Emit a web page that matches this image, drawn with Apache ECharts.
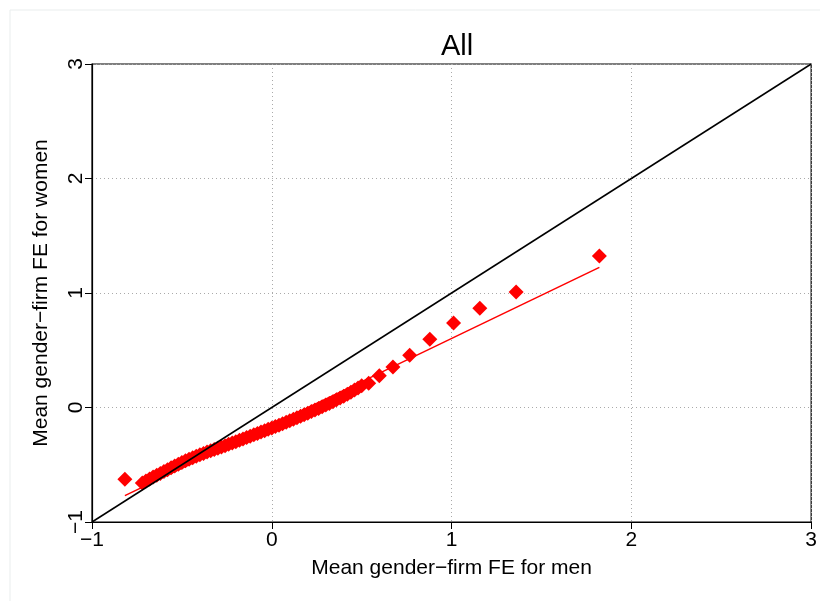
<!DOCTYPE html>
<html>
<head>
<meta charset="utf-8">
<script src="https://cdn.jsdelivr.net/npm/echarts@6/dist/echarts.min.js"></script>
<style>
  html, body { margin: 0; padding: 0; background: #fff; }
  #chart { width: 820px; height: 601px; }
</style>
</head>
<body>
<div id="chart"></div>
<script>
// mean FE for men (x) and women (y), one diamond per bin
const menFE = [
  -0.817, -0.72, -0.70, -0.68, -0.66, -0.64, -0.62, -0.60, -0.58, -0.56, -0.54,
  -0.52, -0.50, -0.48, -0.46, -0.44, -0.42, -0.40, -0.38, -0.36, -0.34,
  -0.32, -0.30, -0.28, -0.26, -0.24, -0.22, -0.20, -0.18, -0.16, -0.14,
  -0.12, -0.10, -0.08, -0.06, -0.04, -0.02, 0.00, 0.02, 0.04, 0.06,
  0.08, 0.10, 0.12, 0.14, 0.16, 0.18, 0.20, 0.22, 0.24, 0.26,
  0.28, 0.30, 0.32, 0.34, 0.36, 0.38, 0.40, 0.42, 0.44, 0.46, 0.48, 0.50,
  0.539, 0.598, 0.674, 0.767, 0.879, 1.011, 1.157, 1.359, 1.822
];
const womenFE = [
  -0.627, -0.660, -0.643, -0.625, -0.608, -0.592, -0.576, -0.560, -0.543, -0.527, -0.511,
  -0.495, -0.480, -0.466, -0.452, -0.439, -0.426, -0.413, -0.401, -0.389, -0.377,
  -0.366, -0.355, -0.344, -0.333, -0.322, -0.311, -0.299, -0.287, -0.275, -0.263,
  -0.250, -0.238, -0.226, -0.214, -0.202, -0.190, -0.178, -0.166, -0.154, -0.141,
  -0.129, -0.116, -0.103, -0.090, -0.077, -0.063, -0.050, -0.036, -0.022, -0.008,
  0.006, 0.021, 0.036, 0.051, 0.067, 0.083, 0.099, 0.116, 0.134, 0.152, 0.171, 0.190,
  0.211, 0.278, 0.354, 0.456, 0.596, 0.738, 0.866, 1.009, 1.323
];

// fitted line end points
const fitX = [-0.817, 1.822];
const fitY = [-0.770, 1.224];

// 45 degree line
const diagX = [-1, 3];
const diagY = [-1, 3];

const xTitle = 'Mean gender\u2212firm FE for men';
const yTitle = 'Mean gender\u2212firm FE for women';
const chartTitle = 'All';

const FONT = '"Liberation Sans", Arial, sans-serif';
const minus = v => String(v).replace('-', '\u2212');

const chart = echarts.init(document.getElementById('chart'));

const pts = menFE.map((x, i) => [x, womenFE[i]]);
const fit = fitX.map((x, i) => [x, fitY[i]]);
const diag = diagX.map((x, i) => [x, diagY[i]]);

const option = {
    animation: false,
    backgroundColor: '#fff',
    graphic: [{
        type: 'rect',
        shape: { x: 10, y: 10, width: 840, height: 620 },
        style: { fill: 'none', stroke: '#e9eded', lineWidth: 1 },
        silent: true
    }],
    title: {
        text: chartTitle,
        left: 452,
        top: 27,
        textAlign: 'center',
        textStyle: { fontFamily: FONT, fontSize: 29, fontWeight: 'normal', color: '#000' }
    },
    grid: {
        left: 92,
        right: 8,
        top: 64,
        bottom: 79,
        show: true,
        borderColor: '#000',
        borderWidth: 1.2
    },
    xAxis: {
        type: 'value',
        min: -1,
        max: 3,
        interval: 1,
        name: xTitle,
        nameLocation: 'middle',
        nameGap: 36,
        nameTextStyle: { fontFamily: FONT, fontSize: 21, color: '#000' },
        axisLine: { show: true, onZero: false, lineStyle: { color: '#000', width: 1.2 } },
        axisTick: { show: true, length: 7, lineStyle: { color: '#000' } },
        axisLabel: {
            margin: 8,
            fontFamily: FONT, fontSize: 21, color: '#000',
            formatter: minus
        },
        splitLine: { show: true, lineStyle: { color: '#aaa', type: [1, 3], width: 1 } }
    },
    yAxis: {
        type: 'value',
        min: -1,
        max: 3,
        interval: 1,
        name: yTitle,
        nameLocation: 'middle',
        nameGap: 40,
        nameRotate: 90,
        nameTextStyle: { fontFamily: FONT, fontSize: 21, color: '#000' },
        axisLine: { show: true, onZero: false, lineStyle: { color: '#000', width: 1.2 } },
        axisTick: { show: true, length: 7, lineStyle: { color: '#000' } },
        axisLabel: {
            rotate: 90,
            margin: 5,
            fontFamily: FONT, fontSize: 21, color: '#000',
            formatter: minus
        },
        splitLine: { show: true, lineStyle: { color: '#aaa', type: [1, 3], width: 1 } }
    },
    series: [
        {
            type: 'line',
            data: fit,
            showSymbol: false,
            lineStyle: { color: '#ff0000', width: 1.5 },
            z: 2
        },
        {
            type: 'scatter',
            data: pts,
            symbol: 'diamond',
            symbolSize: 15,
            itemStyle: { color: '#ff0000', opacity: 1 },
            z: 3
        },
        {
            type: 'line',
            data: diag,
            showSymbol: false,
            lineStyle: { color: '#000', width: 1.5 },
            z: 4
        }
    ]
};

chart.setOption(option);
</script>
</body>
</html>
